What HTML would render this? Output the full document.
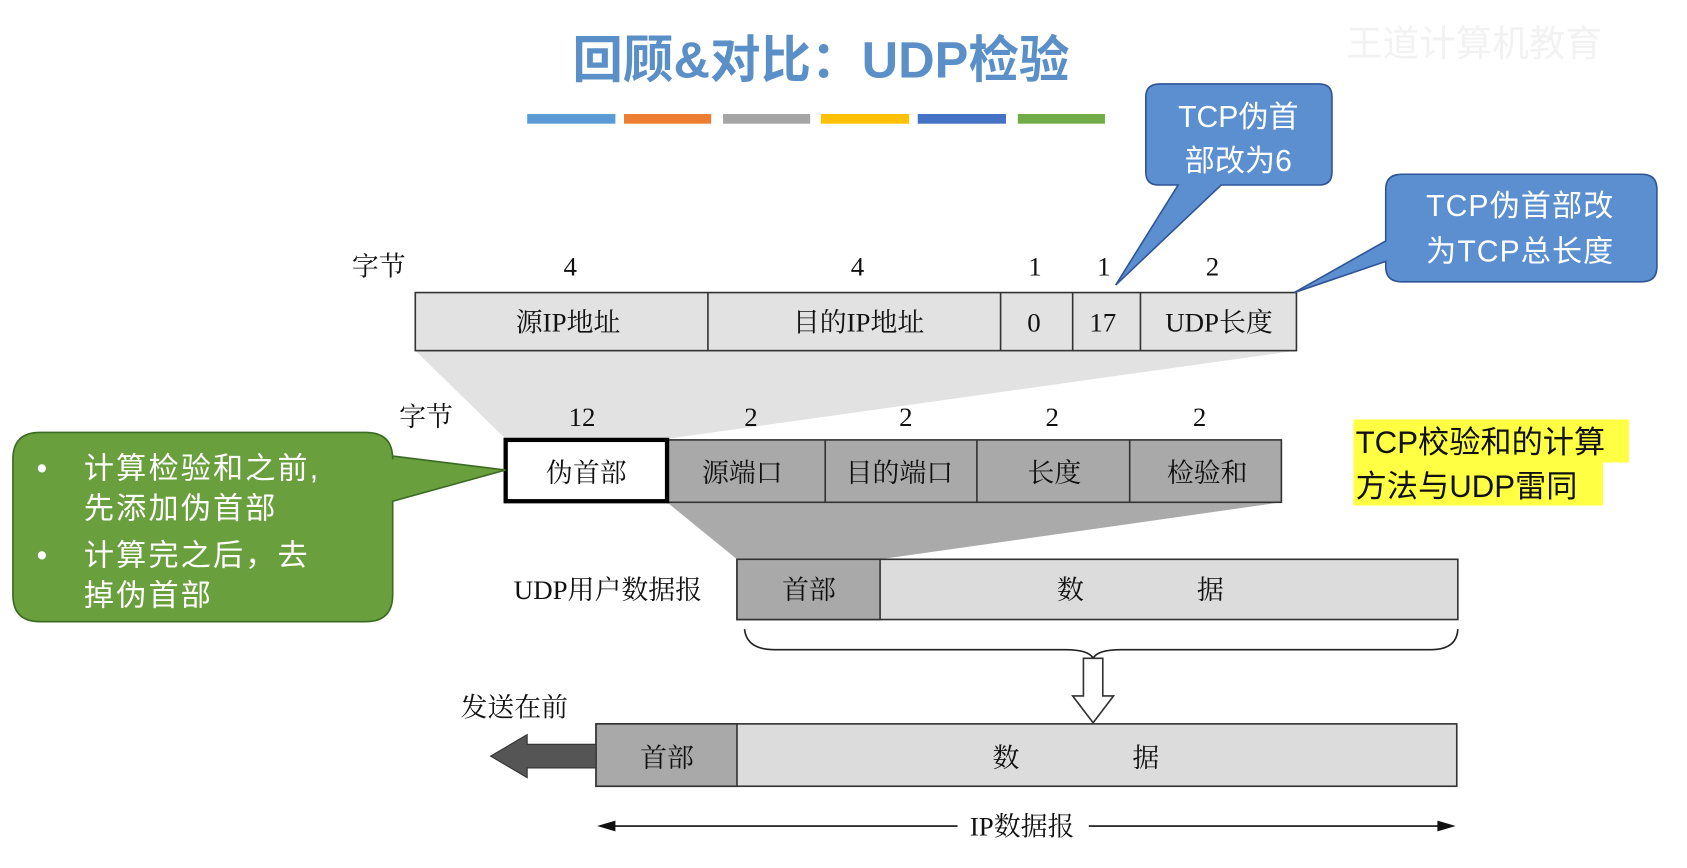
<!DOCTYPE html>
<html><head><meta charset="utf-8"><style>
html,body{margin:0;padding:0;background:#fff;}
svg{display:block}
.s{font-family:"Liberation Serif","Noto Serif CJK SC",serif;font-size:25px;fill:#111;}
.w{font-family:"Liberation Sans","Noto Sans CJK SC",sans-serif;fill:#fff;font-size:28px;}
</style></head><body>
<svg width="1687" height="868" viewBox="0 0 1568 807" preserveAspectRatio="none" xmlns="http://www.w3.org/2000/svg">
<rect width="1568" height="807" fill="#fff"/>
<text x="763" y="72" text-anchor="middle" font-family="Liberation Sans,Noto Sans CJK SC,sans-serif" font-weight="bold" font-size="47" fill="#5b8fc7">回顾&amp;对比：UDP检验</text>
<text x="1370" y="52" text-anchor="middle" font-family="Liberation Sans,Noto Sans CJK SC,sans-serif" font-size="34" fill="#f2f2f2">王道计算机教育</text>
<g>
<rect x="490" y="106" width="82" height="9" fill="#5b9bd5"/>
<rect x="580" y="106" width="81" height="9" fill="#ed7d31"/>
<rect x="672" y="106" width="81" height="9" fill="#a5a5a5"/>
<rect x="763" y="106" width="82" height="9" fill="#ffc000"/>
<rect x="853" y="106" width="82" height="9" fill="#4472c4"/>
<rect x="946" y="106" width="81" height="9" fill="#70ad47"/>
</g>
<polygon points="386,326 1205,326 620,408 470,408" fill="#e2e2e2"/>
<polygon points="620,467 1191,467 818,520 685,520" fill="#aaaaaa"/>
<g class="s">
<text x="352" y="256" text-anchor="middle">字节</text>
<text x="530" y="256" text-anchor="middle">4</text>
<text x="797" y="256" text-anchor="middle">4</text>
<text x="962" y="256" text-anchor="middle">1</text>
<text x="1026" y="256" text-anchor="middle">1</text>
<text x="1127" y="256" text-anchor="middle">2</text>
</g>
<rect x="386" y="272" width="819" height="54" fill="#e2e2e2" stroke="#333" stroke-width="1.5"/>
<g stroke="#333" stroke-width="1.5"><line x1="658" y1="272" x2="658" y2="326"/><line x1="930" y1="272" x2="930" y2="326"/><line x1="997" y1="272" x2="997" y2="326"/><line x1="1060" y1="272" x2="1060" y2="326"/></g>
<g class="s" text-anchor="middle">
<text x="528" y="308">源IP地址</text><text x="798" y="308">目的IP地址</text><text x="961" y="308">0</text><text x="1025" y="308">17</text><text x="1133" y="308">UDP长度</text>
</g>
<g class="s" text-anchor="middle">
<text x="396" y="396">字节</text><text x="541" y="396">12</text><text x="698" y="396">2</text><text x="842" y="396">2</text><text x="978" y="396">2</text><text x="1115" y="396">2</text>
</g>
<rect x="620" y="409" width="571" height="58" fill="#a9a9a9" stroke="#333" stroke-width="1.5"/>
<g stroke="#333" stroke-width="1.5"><line x1="767" y1="409" x2="767" y2="467"/><line x1="908" y1="409" x2="908" y2="467"/><line x1="1050" y1="409" x2="1050" y2="467"/></g>
<rect x="470" y="409" width="150" height="57" fill="#fff" stroke="#000" stroke-width="4"/>
<g class="s" text-anchor="middle">
<text x="545" y="448">伪首部</text><text x="690" y="448">源端口</text><text x="836" y="448">目的端口</text><text x="980" y="448">长度</text><text x="1122" y="448">检验和</text>
</g>
<text class="s" x="565" y="557" text-anchor="middle">UDP用户数据报</text>
<rect x="685" y="520" width="670" height="56" fill="#dcdcdc" stroke="#333" stroke-width="1.5"/>
<rect x="685" y="520" width="133" height="56" fill="#a9a9a9" stroke="#333" stroke-width="1.5"/>
<g class="s" text-anchor="middle"><text x="752" y="557">首部</text><text x="995" y="557">数</text><text x="1125" y="557">据</text></g>
<path d="M692,585 Q694,604 720,604 L990,604 Q1012,604 1016,612 Q1020,604 1042,604 L1330,604 Q1354,604 1355,585" fill="none" stroke="#222" stroke-width="1.5"/>
<polygon points="1007,612 1025,612 1025,647 1035,647 1016,672 997,647 1007,647" fill="#fff" stroke="#333" stroke-width="1.5"/>
<text class="s" x="478" y="666" text-anchor="middle">发送在前</text>
<rect x="554" y="673" width="800" height="58" fill="#dcdcdc" stroke="#333" stroke-width="1.5"/>
<rect x="554" y="673" width="131" height="58" fill="#a9a9a9" stroke="#333" stroke-width="1.5"/>
<g class="s" text-anchor="middle"><text x="620" y="713">首部</text><text x="935" y="713">数</text><text x="1065" y="713">据</text></g>
<polygon points="554,692 490,692 490,683 456,703 490,723 490,714 554,714" fill="#555" stroke="#333"/>
<line x1="560" y1="768" x2="890" y2="768" stroke="#111" stroke-width="1.5"/>
<line x1="1012" y1="768" x2="1348" y2="768" stroke="#111" stroke-width="1.5"/>
<polygon points="555,768 572,763 572,773" fill="#111"/><polygon points="1353,768 1336,763 1336,773" fill="#111"/>
<text class="s" x="950" y="777" text-anchor="middle">IP数据报</text>
<path d="M1078,78 L1226,78 Q1238,78 1238,90 L1238,160 Q1238,172 1226,172 L1135,172 L1037,265 L1095,172 L1077,172 Q1065,172 1065,160 L1065,90 Q1065,78 1078,78 Z" fill="#5b8fd0" stroke="#2f5597" stroke-width="1.5"/>
<text class="w" x="1151" y="118" text-anchor="middle">TCP伪首</text>
<text class="w" x="1151" y="159" text-anchor="middle">部改为6</text>
<path d="M1303,162 L1526,162 Q1540,162 1540,176 L1540,248 Q1540,262 1526,262 L1303,262 Q1288,262 1288,248 L1288,243 L1203,272 L1288,224 L1288,176 Q1288,162 1303,162 Z" fill="#5b8fd0" stroke="#2f5597" stroke-width="1.5"/>
<text class="w" x="1413" y="201" text-anchor="middle" letter-spacing="1">TCP伪首部改</text>
<text class="w" x="1413" y="243" text-anchor="middle" letter-spacing="1">为TCP总长度</text>
<path d="M37,402 L340,402 Q365,402 365,427 L365,424 L470,437 L365,466 L365,553 Q365,578 340,578 L37,578 Q12,578 12,553 L12,427 Q12,402 37,402 Z" fill="#6a9f3e" stroke="#3b6b22" stroke-width="1.5"/>
<g class="w" font-size="29" letter-spacing="2">
<text x="34" y="445">•</text><text x="78" y="445">计算检验和之前,</text>
<text x="78" y="482">先添加伪首部</text>
<text x="34" y="526">•</text><text x="78" y="526">计算完之后，去</text>
<text x="78" y="563">掉伪首部</text>
</g>
<rect x="1258" y="390" width="256" height="40" fill="#ffff44"/>
<rect x="1258" y="430" width="232" height="40" fill="#ffff44"/>
<g font-family="Liberation Sans,Noto Sans CJK SC,sans-serif" font-size="29" fill="#111">
<text x="1260" y="421">TCP校验和的计算</text>
<text x="1260" y="462">方法与UDP雷同</text>
</g>
</svg>
</body></html>
